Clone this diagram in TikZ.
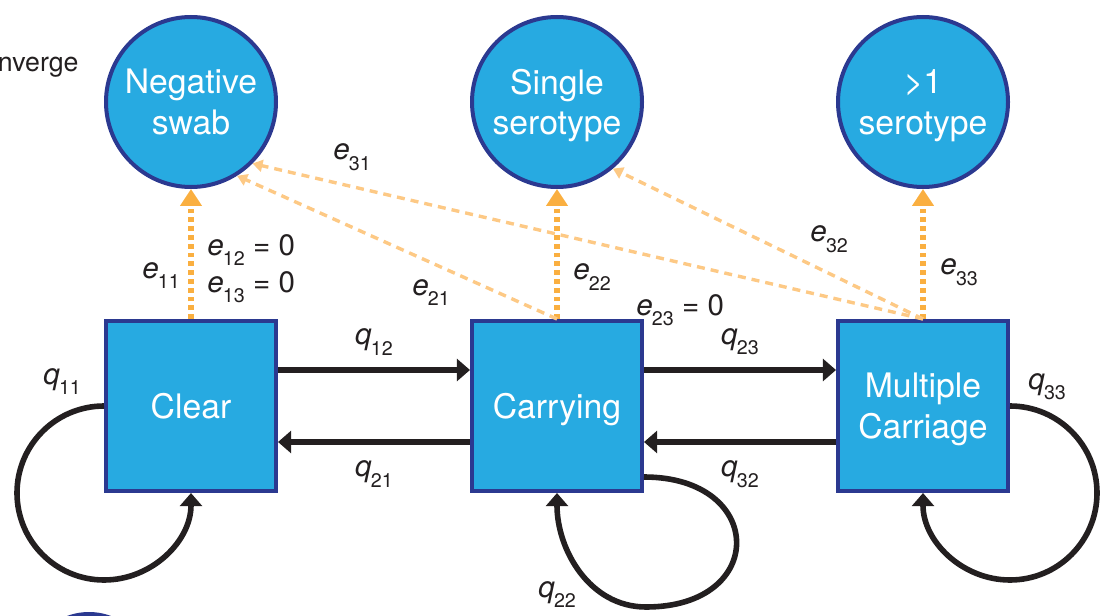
\documentclass[tikz,border=0pt]{standalone}
\usepackage{fontspec}
\setmainfont{TeX Gyre Heros}
\usepackage{tikz}
\usetikzlibrary{positioning,arrows.meta,calc}
\definecolor{statefill}{HTML}{27AAE1}
\definecolor{stateline}{HTML}{2B3990}
\definecolor{emitdot}{HTML}{FAAF40}
\definecolor{emitdash}{HTML}{FDC985}
\definecolor{inkblack}{HTML}{231F20}
% italic symbol with lowered index
\newcommand{\tlab}[2]{\textit{#1}\kern-0.5pt\raisebox{-0.36em}{\fontsize{14}{14}\selectfont #2}}

\begin{document}
\begin{tikzpicture}[
    state/.style={draw=stateline,line width=0.1cm,fill=statefill,minimum size=4.25cm,
                  inner sep=0pt,text=white,font=\fontsize{24}{29}\selectfont,align=center,
                  text depth=0pt},
    obs/.style={state,circle},
    trans/.style={draw=inkblack,line width=0.14cm,-{Triangle[length=0.33cm,width=0.55cm]}},
    emit/.style={draw=emitdot,line width=0.15cm,dash pattern=on 0.12cm off 0.1cm,
                 -{Triangle[length=0.42cm,width=0.52cm]}},
    emitx/.style={draw=emitdash,line width=0.085cm,dash pattern=on 0.2cm off 0.15cm,
                  -{Triangle[length=0.25cm,width=0.3cm]}},
    lab/.style={font=\fontsize{21}{26}\selectfont,text=inkblack,inner sep=0pt}]
  \clip (0,0) rectangle (27.65,15.375);

  % hidden states
  \node[state] (clear) at (4.775,5.225) {Clear};
  \node[state,right=4.8cm of clear] (carry) {Carrying};
  \node[state,right=4.8cm of carry] (multi) {Multiple\\Carriage};

  % observations
  \node[obs,above=3.25cm of clear] (neg) {Negative\\swab};
  \node[obs,above=3.25cm of carry] (single) {Single\\serotype};
  \node[obs,above=3.25cm of multi] (many) {>1\\serotype};

  % transitions
  \draw[trans] ([yshift=0.9cm]clear.east) -- node[lab,above=0.3cm] {\tlab{q}{12}} ([yshift=0.9cm]carry.west);
  \draw[trans] ([yshift=-0.9cm]carry.west) -- node[lab,below=0.4cm] {\tlab{q}{21}} ([yshift=-0.9cm]clear.east);
  \draw[trans] ([yshift=0.9cm]carry.east) -- node[lab,above=0.3cm] {\tlab{q}{23}} ([yshift=0.9cm]multi.west);
  \draw[trans] ([yshift=-0.9cm]multi.west) -- node[lab,below=0.4cm] {\tlab{q}{32}} ([yshift=-0.9cm]carry.east);
  \draw[trans] (clear.west) arc[start angle=90,end angle=360,radius=2.175cm];
  \draw[trans] (multi.east) arc[start angle=90,end angle=-180,radius=2.175cm];
  \draw[trans] ([yshift=0.4cm]carry.south east) to[out=0,in=0,looseness=2.4]
        ([shift={(0.05cm,-2.85cm)}]carry.south east) to[out=180,in=-90] (carry.south);

  % emissions
  \draw[emit] (clear.north) -- (neg.south);
  \draw[emit] (carry.north) -- (single.south);
  \draw[emit] (multi.north) -- (many.south);
  \draw[emitx] (carry.north) -- (neg.-58);
  \draw[emitx] (multi.north) -- (neg.-45);
  \draw[emitx] (multi.north) -- (single.-50);

  % labels
  \node[lab,anchor=base west] (l11) at (3.55,8.425) {\tlab{e}{11}};
  \node[lab,anchor=base west] (l12) at (5.175,9.0) {\tlab{e}{12} = 0};
  \node[lab,anchor=base west] (l13) at (5.175,8.075) {\tlab{e}{13} = 0};
  \node[lab,anchor=base west] (l21) at (10.3,8.0) {\tlab{e}{21}};
  \node[lab,anchor=base west] (l31) at (8.325,11.375) {\tlab{e}{31}};
  \node[lab,anchor=base west] (l22) at (14.325,8.375) {\tlab{e}{22}};
  \node[lab,anchor=base west] (l23) at (15.9,7.5) {\tlab{e}{23} = 0};
  \node[lab,anchor=base west] (l32) at (20.25,9.325) {\tlab{e}{32}};
  \node[lab,anchor=base west] (l33) at (23.5,8.5) {\tlab{e}{33}};
  \node[lab,anchor=base west] (k11) at (1.075,5.775) {\tlab{q}{11}};
  \node[lab,anchor=base west] (k22) at (13.45,0.45) {\tlab{q}{22}};
  \node[lab,anchor=base west] (k33) at (25.7,5.65) {\tlab{q}{33}};

  % fragments at the border
  \node[lab,anchor=base east,font=\fontsize{19}{21}\selectfont] (cut) at (1.97,13.575) {nverge};
  \fill[stateline] (2.225,-1.475) circle[radius=1.55cm];
\end{tikzpicture}
\end{document}
